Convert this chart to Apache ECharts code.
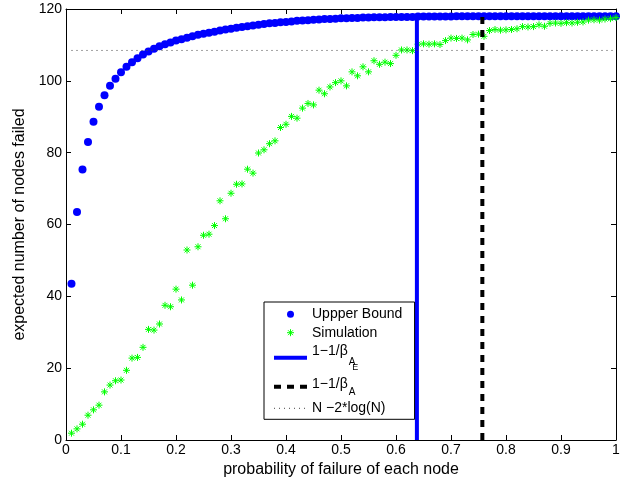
<!DOCTYPE html>
<html>
<head>
<meta charset="utf-8">
<script src="https://cdn.jsdelivr.net/npm/echarts@6.0.0/dist/echarts.min.js"></script>
<style>
  html, body { margin: 0; padding: 0; background: #fff; }
  #myChart { width: 634px; height: 483px; }
</style>
</head>
<body>
<div id="myChart"></div>
<script>
// probability of failure of each node (x)
var pFail = [
  0.01, 0.02, 0.03, 0.04, 0.05, 0.06, 0.07, 0.08, 0.09, 0.10,
  0.11, 0.12, 0.13, 0.14, 0.15, 0.16, 0.17, 0.18, 0.19, 0.20,
  0.21, 0.22, 0.23, 0.24, 0.25, 0.26, 0.27, 0.28, 0.29, 0.30,
  0.31, 0.32, 0.33, 0.34, 0.35, 0.36, 0.37, 0.38, 0.39, 0.40,
  0.41, 0.42, 0.43, 0.44, 0.45, 0.46, 0.47, 0.48, 0.49, 0.50,
  0.51, 0.52, 0.53, 0.54, 0.55, 0.56, 0.57, 0.58, 0.59, 0.60,
  0.61, 0.62, 0.63, 0.64, 0.65, 0.66, 0.67, 0.68, 0.69, 0.70,
  0.71, 0.72, 0.73, 0.74, 0.75, 0.76, 0.77, 0.78, 0.79, 0.80,
  0.81, 0.82, 0.83, 0.84, 0.85, 0.86, 0.87, 0.88, 0.89, 0.90,
  0.91, 0.92, 0.93, 0.94, 0.95, 0.96, 0.97, 0.98, 0.99, 1.00
];

// Uppper Bound (blue dots)
var upperBound = [
  43.5, 63.5, 75.3, 83.0, 88.6, 92.8, 96.0, 98.6, 100.6, 102.4,
  103.9, 105.2, 106.3, 107.3, 108.2, 108.9, 109.6, 110.2, 110.7, 111.2,
  111.6, 112.0, 112.4, 112.8, 113.1, 113.4, 113.7, 114.0, 114.3, 114.5,
  114.8, 115.0, 115.2, 115.4, 115.6, 115.8, 116.0, 116.1, 116.3, 116.4,
  116.5, 116.7, 116.8, 116.9, 117.0, 117.1, 117.2, 117.2, 117.3, 117.4,
  117.4, 117.5, 117.5, 117.6, 117.6, 117.7, 117.7, 117.7, 117.8, 117.8,
  117.8, 117.8, 117.8, 117.9, 117.9, 117.9, 117.9, 117.9, 117.9, 117.9,
  118.0, 118.0, 118.0, 118.0, 118.0, 118.0, 118.0, 118.0, 118.0, 118.0,
  118.0, 118.0, 118.0, 118.0, 118.0, 118.0, 118.0, 118.0, 118.0, 118.0,
  118.0, 118.0, 118.0, 118.0, 118.0, 118.0, 118.0, 118.0, 118.0, 118.0
];

// Simulation (green stars)
var simulation = [
  1.9, 3.1, 4.4, 6.9, 8.4, 9.7, 13.4, 15.3, 16.5, 16.7,
  19.4, 22.8, 23.0, 25.8, 30.8, 30.6, 32.3, 37.5, 37.1, 42.0,
  39.0, 52.9, 43.1, 53.8, 57.0, 57.3, 59.7, 66.6, 61.6, 68.7,
  71.2, 71.3, 75.4, 74.3, 79.9, 80.8, 82.5, 83.3, 87.0, 87.9,
  90.1, 89.6, 92.4, 93.7, 93.3, 97.4, 96.4, 98.3, 99.5, 100.0,
  98.6, 102.5, 101.4, 103.9, 102.5, 105.6, 104.6, 105.2, 104.8, 107.1,
  108.6, 108.6, 108.4, 110.2, 110.3, 110.2, 110.3, 110.1, 111.2, 111.9,
  111.8, 111.9, 111.4, 112.9, 113.0, 112.4, 114.0, 114.3, 114.1, 114.2,
  114.3, 114.5, 115.1, 115.0, 115.1, 115.6, 115.2, 116.0, 116.1, 116.0,
  116.2, 116.1, 116.3, 116.4, 116.9, 117.0, 116.9, 117.2, 117.3, 117.6
];

// thresholds
var betaAE = 0.638;        // 1-1/beta_{A_E}
var betaA = 0.757;         // 1-1/beta_A
var betaLineTop = [117.9, 118.0];
var boundLevel = 108.46;   // N - 2*log(N)
var boundRange = [0.01, 1.0];

var xTicks = { min: 0, max: 1, interval: 0.1 };
var yTicks = { min: 0, max: 120, interval: 20 };

var FONT = "'Liberation Sans', Arial, Helvetica, sans-serif";
var starPath = "path://M5,0L5,10M0,5L10,5M1.5,1.5L8.5,8.5M1.5,8.5L8.5,1.5";

// each legend row ends with a tiny spacer token that fixes the row height
var legendText = {
  "Uppper Bound": "{m1|Uppper Bound}{s1| }",
  "Simulation": "{m2|Simulation}{s2| }",
  "betaAE": "{m3|1\u22121/\u03b2}{a3|A}{e3|E}{s3| }",
  "betaA": "{m4|1\u22121/\u03b2}{a4|A}{s4| }",
  "bound": "{m5|N \u22122*log(N)}{s5| }"
};

function pairs(xs, ys) {
  return xs.map(function (x, i) { return [x, ys[i]]; });
}

function tok(size, lh, pad) {
  return { fontSize: size, fontFamily: FONT, color: "#000", lineHeight: lh, verticalAlign: "top", padding: pad };
}

var myChart = echarts.init(document.getElementById("myChart"), null, { renderer: "canvas" });

var axisCommon = {
  axisLine: { show: true, onZero: false, lineStyle: { color: "#000", width: 1 } },
  axisTick: { show: true, inside: true, length: 5, lineStyle: { color: "#000" } },
  splitLine: { show: false }
};

var config = {
  backgroundColor: "#fff",
  animation: false,
  textStyle: { fontFamily: FONT },
  grid: { left: 66, right: 18, top: 9, bottom: 43, containLabel: false },
  legend: {
    orient: "vertical",
    left: 264,
    top: 302,
    z: 10,
    padding: [2, 11, 1.5, 8],
    itemGap: 0,
    itemWidth: 33,
    itemHeight: 7,
    selectedMode: false,
    backgroundColor: "#fff",
    borderColor: "#000",
    borderWidth: 1,
    borderRadius: 0,
    data: [
      { name: "Uppper Bound", icon: "circle", itemStyle: { color: "#0000ff" } },
      { name: "Simulation", icon: starPath, itemStyle: { color: "#00ff00", borderColor: "#00ff00", borderWidth: 1 } },
      { name: "betaAE", itemStyle: { opacity: 0 }, lineStyle: { color: "#0000ff", width: 4, type: "solid" } },
      { name: "betaA", itemStyle: { opacity: 0 }, lineStyle: { color: "#000", width: 4, type: [7, 6] } },
      { name: "bound", itemStyle: { opacity: 0 }, lineStyle: { color: "#444", width: 1, type: [1, 4] } }
    ],
    formatter: function (name) { return legendText[name]; },
    textStyle: {
      color: "#000",
      fontFamily: FONT,
      fontSize: 14,
      rich: {
        m1: tok(14, 20.6, [3.3, 0, 0, 0]),
        s1: tok(1, 20.6, [19.6, 0, 0, 1]),
        m2: tok(14, 16.2, [1.1, 0, 0, 0]),
        s2: tok(1, 16.2, [15.2, 0, 0, 1]),
        m3: tok(14, 33.8, [2.9, 0, 0, 0]),
        a3: tok(10, 33.8, [16.4, 0, 0, 1]),
        e3: tok(9, 33.8, [22.2, 0, 0, -3]),
        s3: tok(1, 33.8, [32.8, 0, 0, 1]),
        m4: tok(14, 24.2, [2.7, 0, 0, 0]),
        a4: tok(10, 24.2, [13.1, 0, 0, 1]),
        s4: tok(1, 24.2, [23.2, 0, 0, 1]),
        m5: tok(14, 19, [2.5, 0, 0, 0]),
        s5: tok(1, 19, [18, 0, 0, 1])
      }
    }
  },
  xAxis: [
    Object.assign({}, axisCommon, {
      type: "value",
      position: "bottom",
      min: xTicks.min, max: xTicks.max, interval: xTicks.interval,
      name: "probability of failure of each node",
      nameLocation: "middle",
      nameGap: 19,
      nameTextStyle: { color: "#000", fontSize: 16, fontFamily: FONT },
      axisLabel: { color: "#000", fontSize: 14, fontFamily: FONT, margin: 3 }
    }),
    Object.assign({}, axisCommon, {
      type: "value",
      position: "top",
      min: xTicks.min, max: xTicks.max, interval: xTicks.interval,
      axisLabel: { show: false }
    })
  ],
  yAxis: [
    Object.assign({}, axisCommon, {
      type: "value",
      position: "left",
      min: yTicks.min, max: yTicks.max, interval: yTicks.interval,
      name: "expected number of nodes failed",
      nameLocation: "middle",
      nameGap: 35,
      nameTextStyle: { color: "#000", fontSize: 16, fontFamily: FONT },
      axisLabel: { color: "#000", fontSize: 14, fontFamily: FONT, margin: 4 }
    }),
    Object.assign({}, axisCommon, {
      type: "value",
      position: "right",
      min: yTicks.min, max: yTicks.max, interval: yTicks.interval,
      axisLabel: { show: false }
    })
  ],
  series: [
    {
      name: "Uppper Bound",
      type: "scatter",
      symbol: "circle",
      symbolSize: 8,
      itemStyle: { color: "#0000ff", opacity: 1 },
      emphasis: { disabled: true },
      data: pairs(pFail, upperBound)
    },
    {
      name: "Simulation",
      type: "scatter",
      symbol: starPath,
      symbolSize: 7,
      itemStyle: { color: "#00ff00", borderColor: "#00ff00", borderWidth: 1, opacity: 1 },
      emphasis: { disabled: true },
      data: pairs(pFail, simulation)
    },
    {
      name: "betaAE",
      type: "line",
      symbol: "none",
      lineStyle: { color: "#0000ff", width: 4, type: "solid" },
      itemStyle: { color: "#0000ff" },
      emphasis: { disabled: true },
      data: [[betaAE, 0], [betaAE, betaLineTop[0]]]
    },
    {
      name: "betaA",
      type: "line",
      symbol: "none",
      lineStyle: { color: "#000", width: 4, type: [7, 6] },
      itemStyle: { color: "#000" },
      emphasis: { disabled: true },
      data: [[betaA, 0], [betaA, betaLineTop[1]]]
    },
    {
      name: "bound",
      type: "line",
      symbol: "none",
      lineStyle: { color: "#444", width: 1, type: [1, 4] },
      itemStyle: { color: "#444" },
      emphasis: { disabled: true },
      data: [[boundRange[0], boundLevel], [boundRange[1], boundLevel]]
    }
  ]
};

myChart.setOption(config);
</script>
</body>
</html>
